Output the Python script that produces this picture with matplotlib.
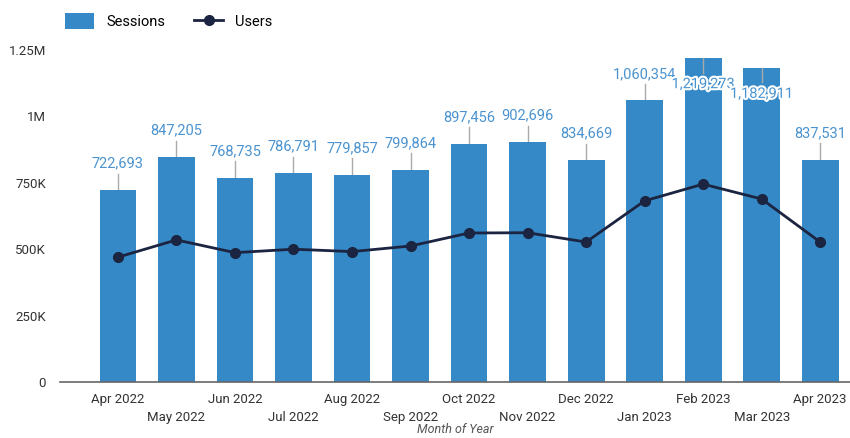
import matplotlib.pyplot as plt
import matplotlib.patheffects as pe
from matplotlib.ticker import FuncFormatter

plt.rcParams['font.family'] = ['Roboto', 'DejaVu Sans']

months = ["Apr 2022", "May 2022", "Jun 2022", "Jul 2022", "Aug 2022", "Sep 2022",
          "Oct 2022", "Nov 2022", "Dec 2022", "Jan 2023", "Feb 2023", "Mar 2023", "Apr 2023"]
sessions = [722693, 847205, 768735, 786791, 779857, 799864,
            897456, 902696, 834669, 1060354, 1219273, 1182911, 837531]
users = [470000, 535000, 487000, 500000, 491000, 512000,
         561000, 562000, 527000, 682000, 745000, 689000, 527000]

bar_color = "#3589c6"
line_color = "#1b2440"
label_color = "#4a93d0"
ymax = 1250000

fig = plt.figure(figsize=(8.5, 4.38), dpi=100)
ax = fig.add_axes([60 / 850, 56 / 438, 790 / 850, 332 / 438])

x = list(range(len(months)))
bars = ax.bar(x, sessions, width=0.63, color=bar_color, label="Sessions", zorder=2)
line, = ax.plot(x, users, color=line_color, lw=2, marker="o", ms=7, label="Users", zorder=4)

# data labels with leader lines
for i, v in enumerate(sessions):
    if v + 110000 < ymax:
        ax.plot([i, i], [v, v + 62000], color="#aaaaaa", lw=1, zorder=1)
        ax.text(i, v + 100000, f"{v:,}", ha="center", va="center",
                color=label_color, fontsize=10.5, zorder=5)
    else:
        ax.plot([i, i], [v, v - 55000], color="#aaaaaa", lw=1, zorder=3)
        ax.text(i, v - 98000, f"{v:,}", ha="center", va="center",
                color=label_color, fontsize=10.5, zorder=5,
                path_effects=[pe.withStroke(linewidth=3, foreground="white")])

ax.set_xlim(-0.99, 12.51)
ax.set_ylim(0, ymax)
ax.set_yticks([0, 250000, 500000, 750000, 1000000, 1250000])
ax.yaxis.set_major_formatter(FuncFormatter(
    lambda v, p: {0: "0", 250000: "250K", 500000: "500K", 750000: "750K",
                  1000000: "1M", 1250000: "1.25M"}.get(int(v), "")))

ax.set_xticks(x)
ax.set_xticklabels(months)
for i, t in enumerate(ax.get_xticklabels()):
    if i % 2 == 1:
        t.set_y(-0.055)
ax.tick_params(axis="x", length=0, pad=8, labelsize=9.5, colors="#333333")
ax.tick_params(axis="y", length=0, pad=10, labelsize=9.5, colors="#333333")

for s in ["top", "right", "left"]:
    ax.spines[s].set_visible(False)
ax.spines["bottom"].set_color("#666666")
ax.spines["bottom"].set_linewidth(1.2)

# axis title sits right at the bottom edge
fig.text(455 / 850, 2 / 438, "Month of Year", ha="center", va="bottom",
         fontsize=9, style="italic", color="#555555")

fig.legend([bars, line], ["Sessions", "Users"], loc="upper left",
           bbox_to_anchor=(52 / 850, 1.0), ncol=2, frameon=False,
           fontsize=10.5, handlelength=2.0, handleheight=1.3, columnspacing=2)

fig.savefig("out.png", dpi=100)
